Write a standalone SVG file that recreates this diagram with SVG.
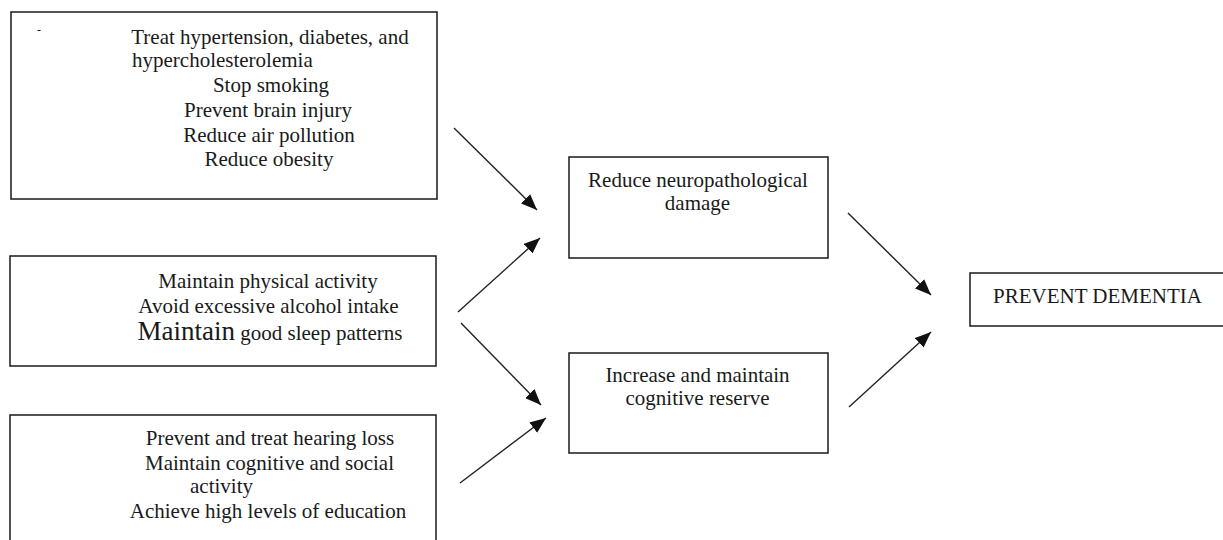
<svg xmlns="http://www.w3.org/2000/svg" width="1223" height="540" viewBox="0 0 1223 540">
<style>
.box{fill:#fff;stroke:#1a1a1a;stroke-width:1.5}
.t{font-family:"Liberation Serif","Times New Roman",serif;font-size:21px;fill:#1a1a1a}
.c{text-anchor:middle}
.edge{stroke:#222;stroke-width:1.4;fill:none;marker-end:url(#ah)}
</style>
<defs>
<marker id="ah" markerUnits="userSpaceOnUse" viewBox="0 0 16 13" markerWidth="16" markerHeight="13" refX="16" refY="6.5" orient="auto">
<path d="M0,0 L16,6.5 L0,13 z" fill="#111"/>
</marker>
</defs>
<rect width="1223" height="540" fill="#fff"/>
<g id="node-risk1">
<rect class="box" x="11" y="12" width="426" height="187"/>
<text class="t" x="37" y="34" style="font-size:12px">-</text>
<text class="t c" x="270" y="44">Treat hypertension, diabetes, and</text>
<text class="t" x="132" y="66.5">hypercholesterolemia</text>
<text class="t c" x="271" y="92">Stop smoking</text>
<text class="t c" x="268" y="116.5">Prevent brain injury</text>
<text class="t c" x="269" y="141.5">Reduce air pollution</text>
<text class="t c" x="269" y="165.5">Reduce obesity</text>
</g>
<g id="node-risk2">
<rect class="box" x="10" y="256" width="426" height="110"/>
<text class="t c" x="268" y="288">Maintain physical activity</text>
<text class="t c" x="268.5" y="313">Avoid excessive alcohol intake</text>
<text class="t c" x="270" y="340"><tspan style="font-size:27px">Maintain</tspan> good sleep patterns</text>
</g>
<g id="node-risk3">
<rect class="box" x="10" y="415" width="426" height="135"/>
<text class="t c" x="270" y="445">Prevent and treat hearing loss</text>
<text class="t c" x="269.5" y="470">Maintain cognitive and social</text>
<text class="t" x="190" y="493">activity</text>
<text class="t c" x="268" y="518">Achieve high levels of education</text>
</g>
<g id="node-neuro">
<rect class="box" x="569" y="157" width="259" height="101"/>
<text class="t c" x="698" y="187">Reduce neuropathological</text>
<text class="t c" x="697.5" y="210">damage</text>
</g>
<g id="node-reserve">
<rect class="box" x="569" y="353" width="259" height="100"/>
<text class="t c" x="697.5" y="382">Increase and maintain</text>
<text class="t c" x="697.5" y="405">cognitive reserve</text>
</g>
<g id="node-prevent">
<rect class="box" x="970" y="273" width="260" height="53"/>
<text class="t" x="993" y="303">PREVENT DEMENTIA</text>
</g>
<g id="connectors">
<line class="edge" x1="454" y1="128" x2="537" y2="210"/>
<line class="edge" x1="458" y1="312" x2="540" y2="238"/>
<line class="edge" x1="461" y1="323" x2="541" y2="405"/>
<line class="edge" x1="460" y1="483" x2="546" y2="418"/>
<line class="edge" x1="848" y1="213" x2="931" y2="295"/>
<line class="edge" x1="849" y1="407" x2="931" y2="332"/>
</g>
</svg>
